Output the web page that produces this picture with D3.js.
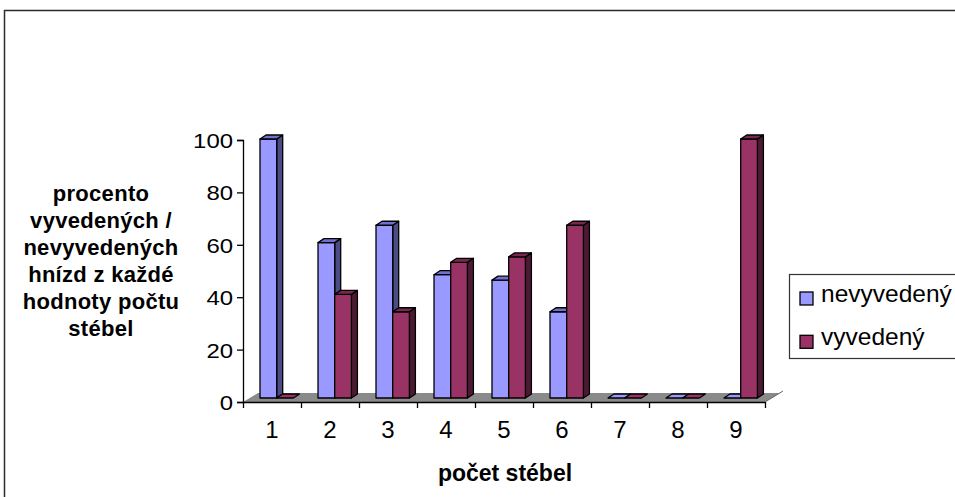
<!DOCTYPE html>
<html>
<head>
<meta charset="utf-8">
<script src="https://cdn.jsdelivr.net/npm/d3@7"></script>
<style>
  html, body { margin: 0; padding: 0; background: #fff; }
  svg { display: block; font-family: "Liberation Sans", Arial, sans-serif; }
</style>
</head>
<body>
<svg id="chart" width="955" height="497"></svg>
<script>
// Nest counts by number of stalks (počet stébel): share of failed vs fledged nests
const categories = ["1", "2", "3", "4", "5", "6", "7", "8", "9"];
const nevyvedeny = [100, 60, 66.7, 47.6, 45.5, 33.3, 0, 0, 0];
const vyvedeny   = [0, 40, 33.3, 52.4, 54.5, 66.7, 0, 0, 100];
const yTicks = [0, 20, 40, 60, 80, 100];
const seriesNames = ["nevyvedený", "vyvedený"];
const yTitleLines = ["procento", "vyvedených /", "nevyvedených", "hnízd z každé", "hodnoty počtu", "stébel"];
const xTitle = "počet stébel";

const svg = d3.select("#chart");

// outer frame of the chart area
svg.append("path")
  .attr("d", "M4.5,497 V10.5 H955")
  .attr("fill", "none").attr("stroke", "#2b2b2b").attr("stroke-width", 1.5);

const x0 = 243, x1 = 765;
const x = d3.scaleBand().domain(categories).range([x0, x1]).paddingInner(0).paddingOuter(0);
const yAxisScale = d3.scaleLinear().domain([0, 100]).range([402, 140]);
const yBar = d3.scaleLinear().domain([0, 100]).range([398, 139]);

// 3D offsets
const floorDx = 15, floorDy = -9;
const barDx = 6, barDy = -4;

// floor
svg.append("polygon")
  .attr("points", [[x0, 402], [x1, 402], [x1 + floorDx, 402 + floorDy], [x0 + floorDx, 402 + floorDy]].join(" "))
  .attr("fill", "#8a8a8a");
svg.append("line")
  .attr("x1", x1).attr("y1", 402).attr("x2", x1 + floorDx + 3).attr("y2", 402 + floorDy - 2)
  .attr("stroke", "#666").attr("stroke-width", 1);

// bars
const palette = [
  { front: "#9999ff", top: "#7070d0", side: "#4b4b85" },
  { front: "#993366", top: "#7a2750", side: "#4d1a33" }
];
const series = [nevyvedeny, vyvedeny];
const barOffset = 17, barW = 16.7;

const gBars = svg.append("g")
  .attr("stroke", "#000").attr("stroke-width", 1.3).attr("stroke-linejoin", "round");

categories.forEach((c, i) => {
  series.forEach((vals, s) => {
    const v = vals[i];
    const bx = x(c) + barOffset + s * barW;
    const yt = yBar(v), yb = yBar(0);
    const col = palette[s];
    const g = gBars.append("g");
    if (v > 0) {
      g.append("polygon")
        .attr("points", [[bx + barW, yt], [bx + barW + barDx, yt + barDy], [bx + barW + barDx, yb + barDy], [bx + barW, yb]].join(" "))
        .attr("fill", col.side);
      g.append("rect")
        .attr("x", bx).attr("y", yt).attr("width", barW).attr("height", yb - yt)
        .attr("fill", col.front);
    }
    g.append("polygon")
      .attr("points", [[bx, yt], [bx + barDx, yt + barDy], [bx + barW + barDx, yt + barDy], [bx + barW, yt]].join(" "))
      .attr("fill", v > 0 ? col.top : col.front);
  });
});

// axes
const yAxis = d3.axisLeft(yAxisScale).tickValues(yTicks).tickSize(6).tickFormat("");
const gy = svg.append("g").attr("transform", `translate(${x0},0)`).call(yAxis);
gy.select(".domain").attr("stroke", "#000").attr("stroke-width", 1.3).attr("d", `M-6,140.5H0.5V402.5H-6`);
gy.selectAll(".tick line").attr("stroke", "#000").attr("stroke-width", 1.3);

// y tick labels, slightly wide glyphs
svg.append("g").selectAll("text").data(yTicks).join("text")
  .attr("transform", d => `translate(233,${yAxisScale(d) + 8}) scale(1.14,1)`)
  .attr("text-anchor", "end")
  .attr("font-size", 21)
  .attr("fill", "#000")
  .text(d => d);

const xBoundaries = categories.map(c => x(c)).concat([x1]);
const gx = svg.append("g");
gx.append("line").attr("x1", x0).attr("x2", x1).attr("y1", 402.5).attr("y2", 402.5)
  .attr("stroke", "#000").attr("stroke-width", 1.3);
gx.selectAll("line.tk").data(xBoundaries).join("line").attr("class", "tk")
  .attr("x1", d => d + 0.5).attr("x2", d => d + 0.5).attr("y1", 402).attr("y2", 408)
  .attr("stroke", "#000").attr("stroke-width", 1.3);
gx.selectAll("text").data(categories).join("text")
  .attr("x", d => x(d) + x.bandwidth() / 2)
  .attr("y", 438)
  .attr("text-anchor", "middle")
  .attr("font-size", 24)
  .attr("fill", "#000")
  .text(d => d);

// axis titles
svg.append("text")
  .attr("x", 505).attr("y", 481)
  .attr("text-anchor", "middle")
  .attr("font-size", 23).attr("font-weight", "bold")
  .text(xTitle);

svg.append("g").selectAll("text").data(yTitleLines).join("text")
  .attr("x", 101)
  .attr("y", (d, i) => 201 + i * 26.9)
  .attr("text-anchor", "middle")
  .attr("font-size", 22).attr("font-weight", "bold")
  .attr("letter-spacing", 0.3)
  .text(d => d);

// legend
const lg = svg.append("g");
lg.append("rect")
  .attr("x", 789.5).attr("y", 274.5).attr("width", 200).attr("height", 84)
  .attr("fill", "#fff").attr("stroke", "#333").attr("stroke-width", 1.2);
seriesNames.forEach((name, i) => {
  lg.append("rect")
    .attr("x", 800).attr("y", 292 + i * 43.3).attr("width", 13).attr("height", 13)
    .attr("fill", palette[i].front).attr("stroke", "#000").attr("stroke-width", 1.3);
  lg.append("text")
    .attr("x", 821).attr("y", 302 + i * 43.3)
    .attr("font-size", 24.5)
    .attr("fill", "#000")
    .text(name);
});
</script>
</body>
</html>
